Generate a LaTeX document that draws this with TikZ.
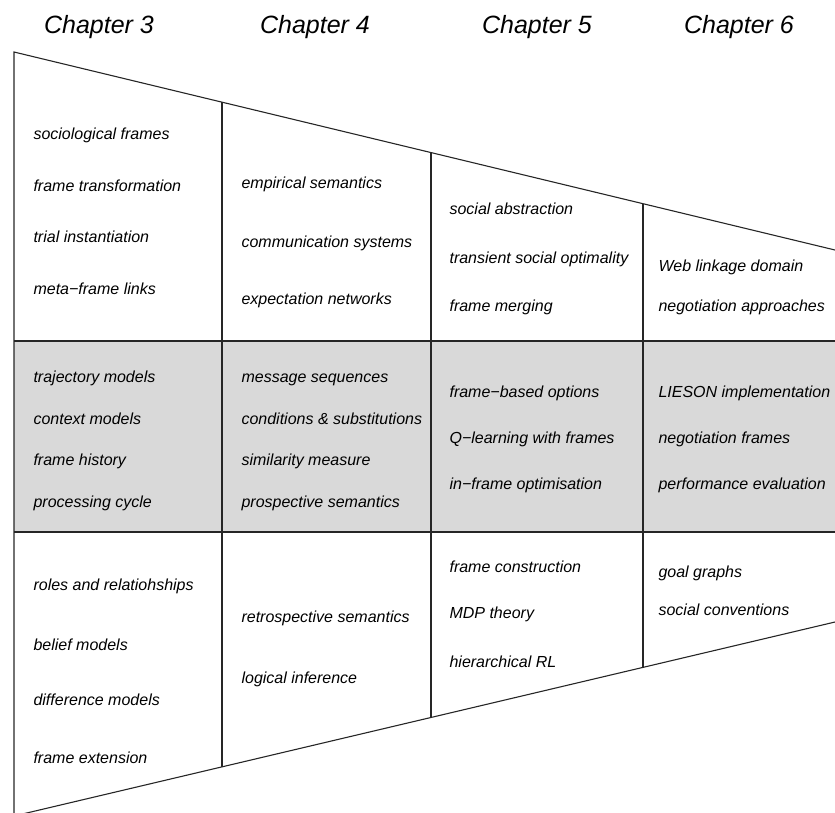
\documentclass[tikz,border=0pt]{standalone}
\usepackage{fontspec}
\setmainfont{Liberation Sans}
\usetikzlibrary{calc}
\definecolor{bandgray}{HTML}{D9D9D9}

\begin{document}
\begin{tikzpicture}[x=1pt,y=-1pt,line width=1.1pt,
  item/.style={anchor=west,inner sep=0pt,text height=12pt,text depth=3.5pt,
    font=\fontsize{16}{19}\selectfont\itshape},
  chapter/.style={anchor=base,inner sep=0pt,font=\fontsize{25}{30}\selectfont\itshape}]
\useasboundingbox (0,0) rectangle (835,812);
\clip (0,0) rectangle (835,812);
% corners of the wedge
\coordinate (tl) at (14,52);
\coordinate (tr) at (835,250);
\coordinate (bl) at (14,816);
\coordinate (br) at (835,622);
% column borders on the slanted edges
\coordinate (t1) at ($(tl)!0.2533!(tr)$);
\coordinate (t2) at ($(tl)!0.5079!(tr)$);
\coordinate (t3) at ($(tl)!0.7661!(tr)$);
\coordinate (b1) at ($(bl)!0.2533!(br)$);
\coordinate (b2) at ($(bl)!0.5079!(br)$);
\coordinate (b3) at ($(bl)!0.7661!(br)$);
% middle band
\fill[bandgray] (14,341) rectangle (835,532);
\draw[black!85] (14,341) -- (835,341);
\draw[black!85] (14,532) -- (835,532);
\draw[black!85] (tr) -- (tl) -- (bl) -- (br);
\draw[black!85] (t1) -- (b1);
\draw[black!85] (t2) -- (b2);
\draw[black!85] (t3) -- (b3);
% chapter headings
\node[chapter] (ch3) at (99,33) {Chapter 3};
\node[chapter] (ch4) at (315,33) {Chapter 4};
\node[chapter] (ch5) at (537,33) {Chapter 5};
\node[chapter] (ch6) at (739,33) {Chapter 6};
% chapter 3
\node[item] (c3a) at (33,135) {sociological frames};
\node[item] (c3b) at (33,187) {frame transformation};
\node[item] (c3c) at (33,238) {trial instantiation};
\node[item] (c3d) at (33,290) {meta−frame links};
\node[item] (c3e) at (33,378) {trajectory models};
\node[item] (c3f) at (33,420) {context models};
\node[item] (c3g) at (33,461) {frame history};
\node[item] (c3h) at (33,503) {processing cycle};
\node[item] (c3i) at (33,586) {roles and relatiohships};
\node[item] (c3j) at (33,646) {belief models};
\node[item] (c3k) at (33,701) {difference models};
\node[item] (c3l) at (33,759) {frame extension};
% chapter 4
\node[item] (c4a) at (241,184) {empirical semantics};
\node[item] (c4b) at (241,243) {communication systems};
\node[item] (c4c) at (241,300) {expectation networks};
\node[item] (c4d) at (241,378) {message sequences};
\node[item] (c4e) at (241,420) {conditions \& substitutions};
\node[item] (c4f) at (241,461) {similarity measure};
\node[item] (c4g) at (241,503) {prospective semantics};
\node[item] (c4h) at (241,618) {retrospective semantics};
\node[item] (c4i) at (241,679) {logical inference};
% chapter 5
\node[item] (c5a) at (449,210) {social abstraction};
\node[item] (c5b) at (449,259) {transient social optimality};
\node[item] (c5c) at (449,307) {frame merging};
\node[item] (c5d) at (449,393) {frame−based options};
\node[item] (c5e) at (449,439) {Q−learning with frames};
\node[item] (c5f) at (449,485) {in−frame optimisation};
\node[item] (c5g) at (449,568) {frame construction};
\node[item] (c5h) at (449,614) {MDP theory};
\node[item] (c5i) at (449,663) {hierarchical RL};
% chapter 6
\node[item] (c6a) at (658,267) {Web linkage domain};
\node[item] (c6b) at (658,307) {negotiation approaches};
\node[item] (c6c) at (658,393) {LIESON implementation};
\node[item] (c6d) at (658,439) {negotiation frames};
\node[item] (c6e) at (658,485) {performance evaluation};
\node[item] (c6f) at (658,573) {goal graphs};
\node[item] (c6g) at (658,611) {social conventions};
\end{tikzpicture}
\end{document}
